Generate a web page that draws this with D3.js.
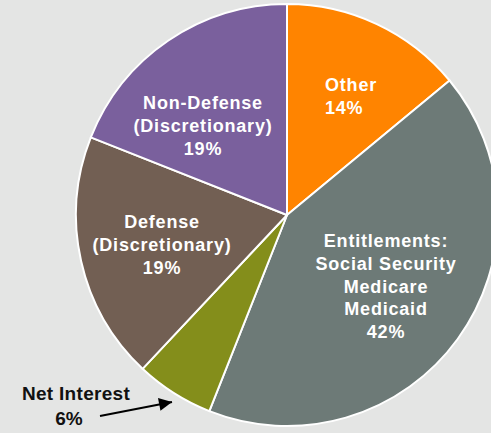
<!DOCTYPE html>
<html>
<head>
<meta charset="utf-8">
<script src="https://cdn.jsdelivr.net/npm/d3@7"></script>
<style>
  html, body { margin: 0; padding: 0; background: #e4e5e4; }
  svg { display: block; }
  text { font-family: "Liberation Sans", Arial, sans-serif; font-weight: bold; }
</style>
</head>
<body>
<script>
// Federal spending shares, clockwise from 12 o'clock
const categories = ["Other", "Entitlements", "Net Interest", "Defense", "Non-Defense"];
const shares = [14, 42, 6, 19, 19];
const labelLines = [
  ["Other", "14%"],
  ["Entitlements:", "Social Security", "Medicare", "Medicaid", "42%"],
  ["Net Interest", "6%"],
  ["Defense", "(Discretionary)", "19%"],
  ["Non-Defense", "(Discretionary)", "19%"]
];
const colors = ["#ff8400", "#6d7a77", "#848e1b", "#725f53", "#7a609d"];

const width = 491, height = 433;
const cx = 287, cy = 215, radius = 211;

const svg = d3.select("body").append("svg")
  .attr("width", width).attr("height", height);

const data = categories.map((c, i) => ({ name: c, value: shares[i], lines: labelLines[i], color: colors[i] }));

const pie = d3.pie().value(d => d.value).sort(null);
const arc = d3.arc().innerRadius(0).outerRadius(radius);
const arcs = pie(data);

const g = svg.append("g").attr("transform", `translate(${cx},${cy})`);

g.selectAll("path.slice")
  .data(arcs)
  .join("path")
  .attr("class", "slice")
  .attr("d", arc)
  .attr("fill", d => d.data.color)
  .attr("stroke", "#ffffff")
  .attr("stroke-width", 2)
  .attr("stroke-linejoin", "round");

// In-slice label placement (centre of first line, relative to the pie centre)
const labelPos = {
  "Other": { x: 38, y: -130, anchor: "start" },
  "Entitlements": { x: 99, y: 26, anchor: "middle" },
  "Defense": { x: -125, y: 7, anchor: "middle" },
  "Non-Defense": { x: -84, y: -112, anchor: "middle" }
};
const lineGap = 22.8;

arcs.forEach(a => {
  const p = labelPos[a.data.name];
  if (!p) return;
  const t = g.append("text")
    .attr("fill", "#ffffff")
    .attr("font-size", 18)
    .attr("letter-spacing", 0.8)
    .attr("text-anchor", p.anchor)
    .attr("dominant-baseline", "central");
  a.data.lines.forEach((ln, i) => {
    t.append("tspan")
      .attr("x", p.x)
      .attr("y", p.y + i * lineGap)
      .text(ln);
  });
});

// Outside label with a pointer arrow for the small slice
const netArc = arcs[2];
const net = svg.append("g");
net.append("text")
  .attr("x", 76).attr("y", 393)
  .attr("fill", "#111111").attr("font-size", 19)
  .attr("text-anchor", "middle").attr("dominant-baseline", "central")
  .attr("letter-spacing", 0.3)
  .text(netArc.data.lines[0]);
net.append("text")
  .attr("x", 69).attr("y", 418)
  .attr("fill", "#111111").attr("font-size", 19)
  .attr("text-anchor", "middle").attr("dominant-baseline", "central")
  .text(netArc.data.lines[1]);

svg.append("defs").append("marker")
  .attr("id", "arrowhead")
  .attr("viewBox", "0 0 10 10")
  .attr("refX", 10).attr("refY", 5)
  .attr("markerUnits", "userSpaceOnUse")
  .attr("markerWidth", 17).attr("markerHeight", 13)
  .attr("orient", "auto")
  .append("path")
  .attr("d", "M0,0 L10,5 L0,10 Z")
  .attr("fill", "#000000");

net.append("line")
  .attr("x1", 100).attr("y1", 416)
  .attr("x2", 172).attr("y2", 402)
  .attr("stroke", "#000000")
  .attr("stroke-width", 2)
  .attr("marker-end", "url(#arrowhead)");
</script>
</body>
</html>
